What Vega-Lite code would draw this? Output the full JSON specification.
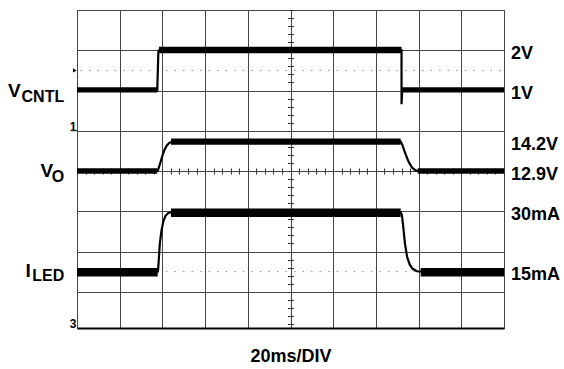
{
  "$schema": "https://vega.github.io/schema/vega-lite/v6.json",
  "width": 427,
  "height": 318,
  "autosize": "none",
  "padding": {"left": 77, "top": 10, "right": 60, "bottom": 41},
  "background": "white",
  "config": {
    "font": "Liberation Sans",
    "view": {"stroke": "#333", "strokeWidth": 1}
  },
  "datasets": {
    "traces": [
      {"ch": "VCNTL", "t": 0, "d": 2.0},
      {"ch": "VCNTL", "t": 1.88, "d": 2.0},
      {"ch": "VCNTL", "t": 1.89, "d": 1.6},
      {"ch": "VCNTL", "t": 1.905, "d": 1.05},
      {"ch": "VCNTL", "t": 1.92, "d": 1.0},
      {"ch": "VCNTL", "t": 7.6, "d": 1.0},
      {"ch": "VCNTL", "t": 7.601, "d": 2.34},
      {"ch": "VCNTL", "t": 7.615, "d": 2.0},
      {"ch": "VCNTL", "t": 10, "d": 2.0},
      {"ch": "VO", "t": 0, "d": 4.0},
      {"ch": "VO", "t": 1.88, "d": 4.0},
      {"ch": "VO", "t": 1.9, "d": 3.97},
      {"ch": "VO", "t": 1.95, "d": 3.8},
      {"ch": "VO", "t": 2.0, "d": 3.62},
      {"ch": "VO", "t": 2.05, "d": 3.47},
      {"ch": "VO", "t": 2.1, "d": 3.37},
      {"ch": "VO", "t": 2.16, "d": 3.3},
      {"ch": "VO", "t": 2.24, "d": 3.27},
      {"ch": "VO", "t": 7.58, "d": 3.27},
      {"ch": "VO", "t": 7.62, "d": 3.35},
      {"ch": "VO", "t": 7.68, "d": 3.54},
      {"ch": "VO", "t": 7.76, "d": 3.76},
      {"ch": "VO", "t": 7.84, "d": 3.91},
      {"ch": "VO", "t": 7.92, "d": 3.98},
      {"ch": "VO", "t": 8.0, "d": 4.0},
      {"ch": "VO", "t": 10, "d": 4.0},
      {"ch": "ILED", "t": 0, "d": 6.5},
      {"ch": "ILED", "t": 1.89, "d": 6.5},
      {"ch": "ILED", "t": 1.9, "d": 6.45},
      {"ch": "ILED", "t": 1.94, "d": 5.8},
      {"ch": "ILED", "t": 1.98, "d": 5.47},
      {"ch": "ILED", "t": 2.02, "d": 5.26},
      {"ch": "ILED", "t": 2.07, "d": 5.12},
      {"ch": "ILED", "t": 2.13, "d": 5.05},
      {"ch": "ILED", "t": 2.22, "d": 5.02},
      {"ch": "ILED", "t": 7.58, "d": 5.02},
      {"ch": "ILED", "t": 7.61, "d": 5.1},
      {"ch": "ILED", "t": 7.64, "d": 5.38},
      {"ch": "ILED", "t": 7.68, "d": 5.8},
      {"ch": "ILED", "t": 7.73, "d": 6.13},
      {"ch": "ILED", "t": 7.79, "d": 6.32},
      {"ch": "ILED", "t": 7.86, "d": 6.43},
      {"ch": "ILED", "t": 7.96, "d": 6.49},
      {"ch": "ILED", "t": 8.1, "d": 6.5},
      {"ch": "ILED", "t": 10, "d": 6.5}
    ],
    "bands": [
      {"ch": "VCNTL", "t0": 0, "t1": 1.88, "lo": 1.92, "hi": 2.05},
      {"ch": "VCNTL", "t0": 1.92, "t1": 7.6, "lo": 0.91, "hi": 1.075},
      {"ch": "VCNTL", "t0": 7.61, "t1": 10, "lo": 1.92, "hi": 2.05},
      {"ch": "VO", "t0": 0, "t1": 1.88, "lo": 3.93, "hi": 4.07},
      {"ch": "VO", "t0": 2.2, "t1": 7.58, "lo": 3.19, "hi": 3.35},
      {"ch": "VO", "t0": 7.98, "t1": 10, "lo": 3.93, "hi": 4.07},
      {"ch": "ILED", "t0": 0, "t1": 1.89, "lo": 6.41, "hi": 6.62},
      {"ch": "ILED", "t0": 2.2, "t1": 7.58, "lo": 4.93, "hi": 5.14},
      {"ch": "ILED", "t0": 8.05, "t1": 10, "lo": 6.41, "hi": 6.62}
    ],
    "refs": [{"d": 1.5}, {"d": 6.5}],
    "levels": [
      {"label": "2V", "d": 1.0},
      {"label": "1V", "d": 2.0},
      {"label": "14.2V", "d": 3.27},
      {"label": "12.9V", "d": 4.0},
      {"label": "30mA", "d": 5.0},
      {"label": "15mA", "d": 6.5}
    ]
  },
  "resolve": {"axis": {"x": "independent", "y": "independent"}},
  "layer": [
    {
      "data": {"name": "refs"},
      "mark": {"type": "rule", "color": "#888", "strokeWidth": 1, "strokeDash": [1.5, 7.04], "strokeDashOffset": 5},
      "encoding": {
        "y": {"field": "d", "type": "quantitative", "axis": null,
              "scale": {"domain": [0, 7.9], "reverse": true, "nice": false, "zero": false}}
      }
    },
    {
      "data": {"name": "traces"},
      "mark": {"type": "line", "color": "black", "strokeWidth": 2.2},
      "encoding": {
        "x": {
          "field": "t", "type": "quantitative",
          "scale": {"domain": [0, 10], "nice": false, "zero": false},
          "axis": {
            "orient": "bottom",
            "values": [0, 1, 2, 3, 4, 5, 6, 7, 8, 9, 10],
            "grid": true, "gridColor": "#444", "gridWidth": 1,
            "ticks": false, "labels": false,
            "domain": true, "domainColor": "#000", "domainWidth": 2,
            "title": "20ms/DIV", "titleFont": "Liberation Sans", "titleFontWeight": "bold",
            "titleFontSize": 18, "titleColor": "#000", "titlePadding": 19
          }
        },
        "y": {
          "field": "d", "type": "quantitative",
          "scale": {"domain": [0, 7.9], "reverse": true, "nice": false, "zero": false},
          "axis": {
            "orient": "left",
            "values": [0, 1, 2, 3, 4, 5, 6, 7],
            "grid": true, "gridColor": "#444", "gridWidth": 1,
            "ticks": false, "labels": false, "domain": false, "title": null
          }
        },
        "detail": {"field": "ch"}
      }
    },
    {
      "data": {"name": "bands"},
      "mark": {"type": "rect", "color": "black"},
      "encoding": {
        "x": {
          "field": "t0", "type": "quantitative",
          "axis": {
            "orient": "bottom", "offset": -160,
            "values": [0, 0.2, 0.4, 0.6, 0.8, 1, 1.2, 1.4, 1.6, 1.8, 2, 2.2, 2.4, 2.6, 2.8, 3, 3.2, 3.4, 3.6, 3.8, 4, 4.2, 4.4, 4.6, 4.8, 5, 5.2, 5.4, 5.6, 5.8, 6, 6.2, 6.4, 6.6, 6.8, 7, 7.2, 7.4, 7.6, 7.8, 8, 8.2, 8.4, 8.6, 8.8, 9, 9.2, 9.4, 9.6, 9.8, 10],
            "grid": false, "labels": false, "domain": false, "title": null,
            "ticks": true, "tickSize": 6, "tickColor": "#333", "tickWidth": 1
          }
        },
        "x2": {"field": "t1"},
        "y": {
          "field": "lo", "type": "quantitative",
          "axis": {
            "orient": "left", "offset": -216.5,
            "values": [0, 0.2, 0.4, 0.6, 0.8, 1, 1.2, 1.4, 1.6, 1.8, 2, 2.2, 2.4, 2.6, 2.8, 3, 3.2, 3.4, 3.6, 3.8, 4, 4.2, 4.4, 4.6, 4.8, 5, 5.2, 5.4, 5.6, 5.8, 6, 6.2, 6.4, 6.6, 6.8, 7, 7.2, 7.4, 7.6, 7.8],
            "grid": false, "labels": false, "domain": false, "title": null,
            "ticks": true, "tickSize": 6, "tickColor": "#333", "tickWidth": 1
          }
        },
        "y2": {"field": "hi"}
      }
    },
    {
      "data": {"name": "levels"},
      "mark": {"type": "text", "align": "left", "baseline": "alphabetic", "dx": 7, "dy": 8.6,
               "fontSize": 18, "fontWeight": "bold", "color": "black"},
      "encoding": {
        "x": {"datum": 10, "type": "quantitative", "axis": null},
        "y": {"field": "d", "type": "quantitative", "axis": null},
        "text": {"field": "label"}
      }
    },
    {
      "data": {"values": [{}]},
      "mark": {"type": "text", "text": "V", "align": "right", "baseline": "alphabetic", "dy": 6,
               "fontSize": 19, "fontWeight": "bold", "color": "black"},
      "encoding": {
        "x": {"datum": -1.318, "type": "quantitative", "axis": null},
        "y": {"datum": 2.0, "type": "quantitative", "axis": null}
      }
    },
    {
      "data": {"values": [{}]},
      "mark": {"type": "text", "text": "CNTL", "align": "right", "baseline": "alphabetic", "dy": 11,
               "fontSize": 16, "fontWeight": "bold", "color": "black"},
      "encoding": {
        "x": {"datum": -0.3, "type": "quantitative", "axis": null},
        "y": {"datum": 2.0, "type": "quantitative", "axis": null}
      }
    },
    {
      "data": {"values": [{}]},
      "mark": {"type": "text", "text": "V", "align": "right", "baseline": "alphabetic", "dy": 6,
               "fontSize": 19, "fontWeight": "bold", "color": "black"},
      "encoding": {
        "x": {"datum": -0.56, "type": "quantitative", "axis": null},
        "y": {"datum": 4.0, "type": "quantitative", "axis": null}
      }
    },
    {
      "data": {"values": [{}]},
      "mark": {"type": "text", "text": "O", "align": "right", "baseline": "alphabetic", "dy": 10.5,
               "fontSize": 16, "fontWeight": "bold", "color": "black"},
      "encoding": {
        "x": {"datum": -0.3, "type": "quantitative", "axis": null},
        "y": {"datum": 4.0, "type": "quantitative", "axis": null}
      }
    },
    {
      "data": {"values": [{}]},
      "mark": {"type": "text", "text": "I", "align": "right", "baseline": "alphabetic", "dy": 5.5,
               "fontSize": 19, "fontWeight": "bold", "color": "black"},
      "encoding": {
        "x": {"datum": -1.084, "type": "quantitative", "axis": null},
        "y": {"datum": 6.5, "type": "quantitative", "axis": null}
      }
    },
    {
      "data": {"values": [{}]},
      "mark": {"type": "text", "text": "LED", "align": "right", "baseline": "alphabetic", "dy": 9.5,
               "fontSize": 16, "fontWeight": "bold", "color": "black"},
      "encoding": {
        "x": {"datum": -0.3, "type": "quantitative", "axis": null},
        "y": {"datum": 6.5, "type": "quantitative", "axis": null}
      }
    },
    {
      "data": {"values": [{}]},
      "mark": {"type": "text", "text": "1", "align": "right", "baseline": "alphabetic", "dx": -0.5,
               "fontSize": 12, "fontWeight": "bold", "color": "black"},
      "encoding": {
        "x": {"datum": 0, "type": "quantitative", "axis": null},
        "y": {"datum": 3.0, "type": "quantitative", "axis": null}
      }
    },
    {
      "data": {"values": [{}]},
      "mark": {"type": "rule", "color": "#333", "strokeWidth": 1},
      "encoding": {
        "x": {"datum": -0.125, "type": "quantitative", "axis": null},
        "x2": {"datum": 0},
        "y": {"datum": 3.0, "type": "quantitative", "axis": null}
      }
    },
    {
      "data": {"values": [{}]},
      "mark": {"type": "text", "text": "3", "align": "right", "baseline": "alphabetic", "dx": -0.5,
               "fontSize": 12, "fontWeight": "bold", "color": "black"},
      "encoding": {
        "x": {"datum": 0, "type": "quantitative", "axis": null},
        "y": {"datum": 7.9, "type": "quantitative", "axis": null}
      }
    },
    {
      "data": {"values": [{}]},
      "mark": {"type": "point", "shape": "triangle-right", "filled": true, "size": 18, "color": "black", "opacity": 1},
      "encoding": {
        "x": {"datum": -0.05, "type": "quantitative", "axis": null},
        "y": {"datum": 1.5, "type": "quantitative", "axis": null}
      }
    }
  ]
}
